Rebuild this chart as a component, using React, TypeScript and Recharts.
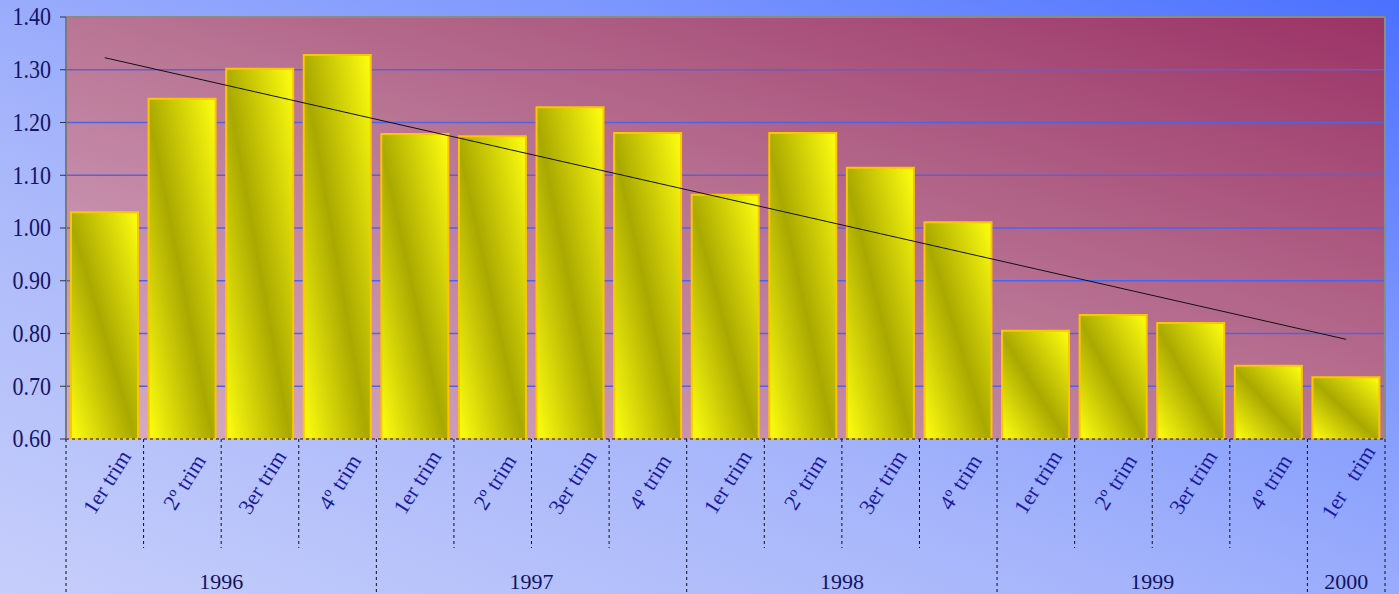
import React from "react";
import { Bar, CartesianGrid, ComposedChart, Line, ReferenceLine, XAxis, YAxis } from "recharts";

const quarters = [
  "1er trim", "2º trim", "3er trim", "4º trim",
  "1er trim", "2º trim", "3er trim", "4º trim",
  "1er trim", "2º trim", "3er trim", "4º trim",
  "1er trim", "2º trim", "3er trim", "4º trim",
  "1er   trim",
];
const years = [
  "1996", "1996", "1996", "1996",
  "1997", "1997", "1997", "1997",
  "1998", "1998", "1998", "1998",
  "1999", "1999", "1999", "1999",
  "2000",
];
const values = [
  1.03, 1.245, 1.302, 1.328,
  1.178, 1.174, 1.229, 1.18,
  1.063, 1.18, 1.114, 1.011,
  0.805, 0.835, 0.82, 0.739,
  0.717,
];
const yTicks = [0.6, 0.7, 0.8, 0.9, 1.0, 1.1, 1.2, 1.3, 1.4];

// linear trend line (least squares over the bars)
const n = values.length;
const meanX = (n - 1) / 2;
const meanY = values.reduce((a, b) => a + b, 0) / n;
let sxy = 0;
let sxx = 0;
values.forEach((v, i) => {
  sxy += (i - meanX) * (v - meanY);
  sxx += (i - meanX) * (i - meanX);
});
const slope = sxy / sxx;

const data = quarters.map((q, i) => ({
  q,
  year: years[i],
  value: values[i],
  trend: meanY + slope * (i - meanX),
}));

const W = 1399;
const H = 594;
const X_H = 155;
const M = { top: 17, right: 14, bottom: 0, left: 0 };
const Y_W = 66;
const PLOT_BOTTOM = H - X_H;
const BAND = (W - M.left - Y_W - M.right) / n;
const serif = "'Liberation Serif', 'Times New Roman', serif";

function QuarterTick(props: any) {
  const { x, index, payload } = props;
  const left = x - BAND / 2;
  const groupStart = index === 0 || years[index] !== years[index - 1];
  const groupSize = years.filter((y) => y === years[index]).length;
  return (
    <g>
      <line
        x1={left}
        x2={left}
        y1={PLOT_BOTTOM}
        y2={groupStart ? H : 548}
        stroke="#111"
        strokeDasharray="3 3"
        strokeWidth={1}
      />
      {index === n - 1 && (
        <line x1={left + BAND} x2={left + BAND} y1={PLOT_BOTTOM} y2={H} stroke="#111" strokeDasharray="3 3" />
      )}
      <text
        transform={`translate(${x + 2},${482}) rotate(-58)`}
        textAnchor="middle"
        dominantBaseline="central"
        fontFamily={serif}
        fontSize={22}
        fill="#1a1aa0"
        style={{ whiteSpace: "pre" }}
      >
        {payload.value}
      </text>
      {groupStart && (
        <text
          x={left + (groupSize * BAND) / 2}
          y={581}
          textAnchor="middle"
          dominantBaseline="central"
          fontFamily={serif}
          fontSize={22}
          fill="#121260"
        >
          {years[index]}
        </text>
      )}
    </g>
  );
}

function ValueTick(props: any) {
  const { x, y, payload } = props;
  return (
    <text
      transform={`translate(${x},${y}) scale(1,1.1)`}
      textAnchor="end"
      dominantBaseline="central"
      fontFamily={serif}
      fontSize={22}
      fill="#14146a"
    >
      {Number(payload.value).toFixed(2)}
    </text>
  );
}

export default function App() {
  return (
    <div
      style={{
        position: "absolute",
        left: 0,
        top: 0,
        width: W,
        height: H,
        background: "linear-gradient(to top right, #c6cefa 0%, #a6b5fb 40%, #7e98fd 70%, #4a70ff 100%)",
      }}
    >
      <ComposedChart width={W} height={H} data={data} margin={M}>
        <defs>
          <linearGradient id="plotGrad" x1="0" y1="1" x2="1" y2="0">
            <stop offset="0%" stopColor="#d6adc6" />
            <stop offset="50%" stopColor="#b97594" />
            <stop offset="100%" stopColor="#9b3366" />
          </linearGradient>
          <linearGradient id="barGrad" x1="0" y1="1" x2="1" y2="0">
            <stop offset="0%" stopColor="#ffff10" />
            <stop offset="48%" stopColor="#a9a800" />
            <stop offset="100%" stopColor="#ffff10" />
          </linearGradient>
        </defs>
        <CartesianGrid
          fill="url(#plotGrad)"
          fillOpacity={1}
          vertical={false}
          horizontalValues={yTicks.slice(1, -1)}
          stroke="#4e63e8"
          strokeWidth={1.5}
        />
        <XAxis
          dataKey="q"
          interval={0}
          tickLine={false}
          axisLine={{ stroke: "#111", strokeDasharray: "3 3" }}
          height={X_H}
          tick={<QuarterTick />}
        />
        <YAxis
          width={Y_W}
          domain={[0.6, 1.4]}
          ticks={yTicks}
          allowDataOverflow
          tick={<ValueTick />}
          tickSize={6}
          tickMargin={9}
          tickLine={{ stroke: "#333" }}
          axisLine={{ stroke: "#7a7a7a", strokeWidth: 2 }}
        />
        <ReferenceLine y={1.4} stroke="#8a8a8a" strokeWidth={2} />
        <Bar
          dataKey="value"
          barSize={67}
          fill="url(#barGrad)"
          stroke="#ffc400"
          strokeWidth={2}
          isAnimationActive={false}
        />
        <Line
          dataKey="trend"
          type="linear"
          stroke="#111"
          strokeWidth={1}
          dot={false}
          activeDot={false}
          isAnimationActive={false}
        />
      </ComposedChart>
      <div
        style={{
          position: "absolute",
          left: W - M.right - 1,
          top: M.top,
          width: 2,
          height: PLOT_BOTTOM - M.top,
          background: "#8a8a8a",
        }}
      />
    </div>
  );
}
